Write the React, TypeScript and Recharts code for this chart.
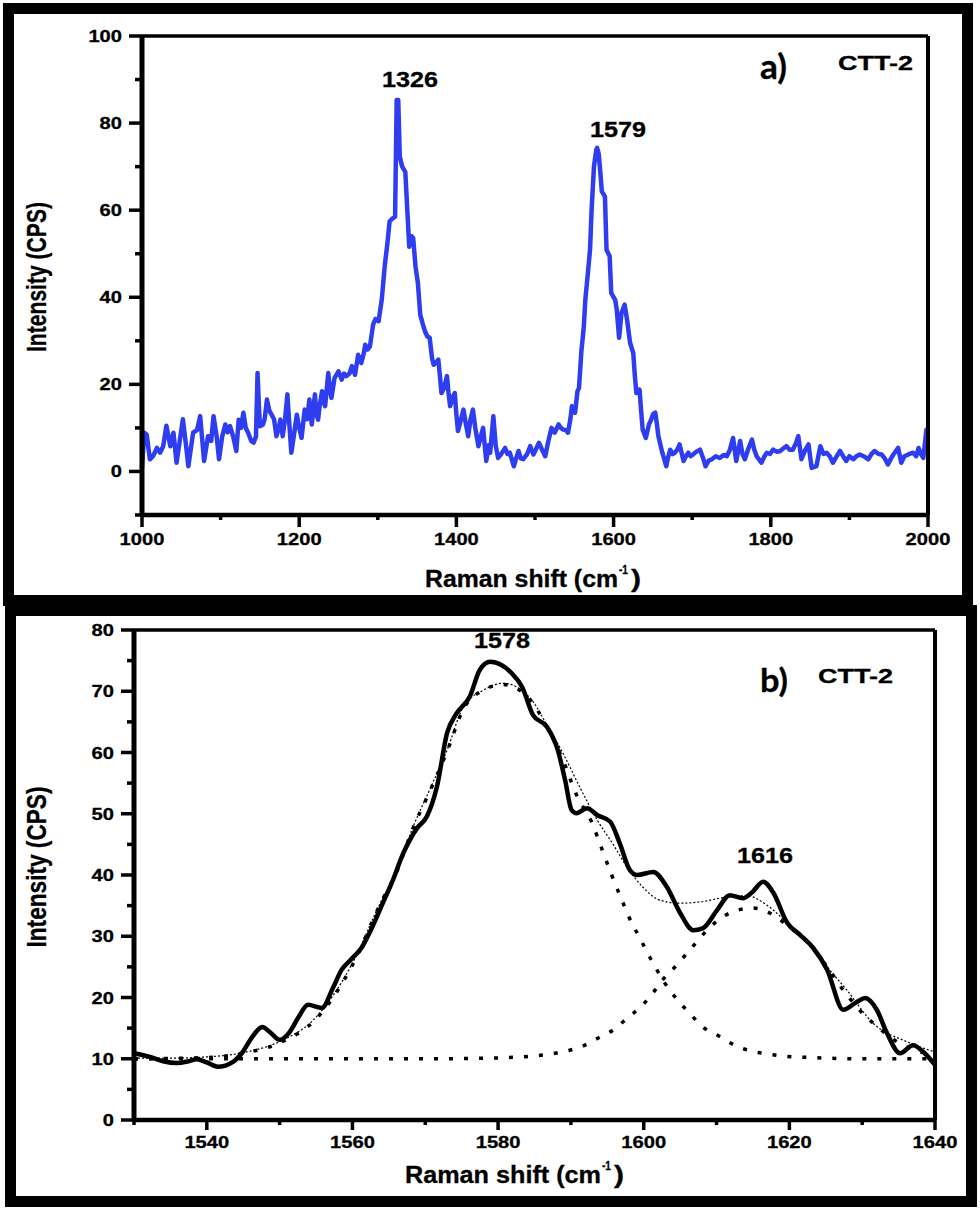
import React from 'react'
import { LineChart, Line, XAxis, YAxis, ReferenceLine } from 'recharts'

const FONT = '"Liberation Sans", Arial, Helvetica, sans-serif'
const BLUE = '#2e3df0'

// ---- panel a): full Raman spectrum, 1000-2000 cm-1 ----
const shiftA = [
  1000, 1003, 1006, 1010, 1014, 1019, 1023, 1027, 1031, 1036, 1040, 1044, 1048, 1052, 1056, 1059,
  1065, 1070, 1074, 1079, 1084, 1088, 1091, 1095, 1098, 1102, 1106, 1109, 1112, 1116, 1120, 1123,
  1126, 1129, 1132, 1135, 1139, 1142, 1145, 1147, 1149, 1150, 1154, 1156, 1159, 1162, 1165, 1168,
  1171, 1174, 1176, 1179, 1182, 1185, 1187, 1190, 1193, 1197, 1200, 1203, 1207, 1210, 1213, 1216,
  1220, 1222, 1224, 1226, 1229, 1231, 1233, 1237, 1239, 1241, 1245, 1250, 1254, 1257, 1260, 1264,
  1267, 1271, 1275, 1279, 1282, 1284, 1287, 1290, 1294, 1297, 1301, 1303, 1305, 1309, 1312, 1315,
  1318, 1322, 1324, 1326, 1328, 1331, 1335, 1340, 1343, 1345, 1348, 1351, 1354, 1357, 1360, 1363,
  1366, 1369, 1371, 1374, 1377, 1379, 1381, 1384, 1388, 1390, 1392, 1395, 1398, 1400, 1402, 1406,
  1409, 1412, 1415, 1418, 1421, 1424, 1428, 1431, 1434, 1436, 1438, 1441, 1443, 1447, 1450, 1453,
  1457, 1462, 1465, 1468, 1473, 1476, 1479, 1482, 1485, 1490, 1494, 1498, 1501, 1505, 1509, 1513,
  1517, 1521, 1525, 1530, 1533, 1536, 1539, 1542, 1545, 1547, 1551, 1554, 1556, 1559, 1562, 1564,
  1567, 1570, 1572, 1575, 1578, 1579, 1581, 1583, 1585, 1589, 1591, 1595, 1597, 1600, 1602, 1604,
  1607, 1610, 1614, 1617, 1621, 1625, 1627, 1629, 1633, 1635, 1637, 1641, 1645, 1648, 1650, 1653,
  1655, 1657, 1662, 1667, 1669, 1672, 1675, 1678, 1681, 1684, 1689, 1692, 1695, 1698, 1701, 1705,
  1710, 1714, 1717, 1721, 1725, 1730, 1735, 1740, 1744, 1748, 1752, 1756, 1761, 1764, 1767, 1771,
  1776, 1779, 1782, 1788, 1792, 1795, 1799, 1803, 1808, 1812, 1816, 1820, 1824, 1828, 1832, 1835,
  1839, 1844, 1848, 1852, 1858, 1863, 1867, 1871, 1875, 1879, 1884, 1888, 1892, 1896, 1900, 1905,
  1909, 1913, 1918, 1924, 1928, 1932, 1937, 1941, 1945, 1949, 1953, 1956, 1962, 1966, 1970, 1975,
  1981, 1985, 1988, 1991, 1994, 1998, 2000,
]
const intensityA = [
  0.8, 8.9, 8.5, 2.8, 3.5, 5.4, 4.3, 5.8, 10.5, 5.8, 8.9, 2.0, 7, 12, 6, 1.2,
  8.9, 9.5, 12.7, 2.4, 8.1, 7, 12.7, 8, 2.8, 8, 10.8, 9, 10.4, 8, 4.7, 11.9,
  10, 13.5, 10, 8.9, 7, 6.6, 8, 22.6, 14, 10.4, 10.8, 12, 16.5, 14, 13, 12,
  8.1, 10, 11.9, 8.1, 12, 17.7, 12, 4.3, 8, 13, 10, 7.7, 14.2, 12, 16.5, 10.8,
  17.7, 13, 11.9, 15, 18.4, 16, 15, 22.6, 19, 16.9, 21.5, 23, 21.1, 22.5, 21.9, 22.5,
  24.2, 22.2, 26.8, 24.9, 27, 29.1, 28, 28.7, 33.7, 35, 34.5, 37, 39.4, 47.5, 52, 57.4,
  58, 58.5, 85.3, 85.3, 72.3, 70, 68.8, 51.6, 54, 53.6, 47, 43.3, 36, 34, 32.2, 31,
  30.7, 26, 24.5, 25, 25.7, 22, 18, 19, 21.9, 18, 15, 17, 18, 13, 9.3, 12,
  14.2, 11, 8.1, 12, 14.2, 10, 5.8, 8, 10, 6, 2.4, 6, 4.3, 12.7, 6, 3.1,
  4, 5.4, 4, 4.3, 1.2, 3, 4.7, 3, 2.8, 4, 5.8, 3.9, 5, 6.6, 5, 3.5,
  7, 10, 8.9, 10.8, 10, 9.6, 9.5, 8.9, 12, 15, 13.5, 18.4, 19.2, 27.6, 33, 39.4,
  45, 50.9, 60, 70, 73.9, 74.3, 73, 69, 64.3, 63.1, 50.9, 49.4, 41, 40, 39.4, 37.2,
  30.7, 36.4, 38.3, 35, 29.5, 27.2, 22, 18, 18.8, 14, 9.6, 7.7, 10.8, 12, 13.1, 13.5,
  11, 8.1, 4.3, 1.2, 3, 5, 4, 4.3, 5, 6.2, 2.4, 3.5, 4.3, 3.5, 3.9, 4.5,
  5, 3, 1.2, 2.5, 2.8, 3.5, 3.1, 3.8, 3.5, 5, 7.7, 2.4, 7, 4, 2.8, 5,
  7.3, 5, 3.5, 2, 3.5, 4.3, 4, 5, 4.5, 4.7, 5.3, 5.8, 5, 5, 6.5, 8.1,
  2.8, 5, 6.2, 0.8, 1.2, 5.8, 4, 4.3, 3.5, 2, 3.5, 4.7, 3.5, 2.4, 3.5, 2.8,
  3.5, 3.9, 3.5, 2.8, 4, 4.7, 4, 3.9, 3, 1.6, 3, 3.9, 5.4, 2, 3.5, 3.9,
  4.3, 3.5, 5.4, 4, 3.1, 9.6, 9,
]
const ticksAX = [1000, 1100, 1200, 1300, 1400, 1500, 1600, 1700, 1800, 1900, 2000]
const ticksAY = [-10, 0, 10, 20, 30, 40, 50, 60, 70, 80, 90, 100]

// ---- panel b): G band and its fit ----
const shiftB = [
  1530, 1532.2, 1534, 1535.9, 1537.5, 1538.6, 1540, 1541.5, 1543.6, 1544.8, 1546.2, 1547.6,
  1548.8, 1550, 1551.4, 1552.6, 1553.9, 1555.8, 1557.3, 1558.5, 1559.7, 1561.3, 1562.4, 1564.2,
  1565.4, 1567, 1568.9, 1570.2, 1571.6, 1573, 1574.3, 1576.1, 1577.5, 1578.9, 1581.9, 1583.3,
  1584.8, 1586.7, 1588.2, 1589.2, 1590.1, 1590.8, 1592.2, 1593.6, 1595.4, 1596.7, 1598.1, 1599.1,
  1601.3, 1603.2, 1605, 1606.8, 1608.1, 1610.1, 1611.8, 1613.6, 1614.9, 1616.4, 1617.8, 1619.7,
  1621.5, 1623.2, 1625.2, 1627.4, 1629.3, 1630.4, 1632, 1633.4, 1635.2, 1637, 1638.4, 1640,
]
const intensityB = [
  10.9, 10.3, 9.6, 9.3, 9.6, 9.9, 9.4, 8.7, 9.5, 10.9, 13.5, 15.2,
  14.2, 13.1, 14.4, 16.8, 18.8, 18.3, 21.5, 24.5, 26.1, 28.2, 30.7, 35.5,
  38.7, 43.6, 47.7, 49.5, 54.4, 63.2, 66.4, 69.1, 73.5, 74.8, 72.9, 70.7,
  66.1, 64.2, 60.4, 55.5, 50.6, 50.1, 50.9, 49.8, 48.7, 45.2, 40.8, 40,
  40.5, 38, 33.8, 31, 31.3, 34.3, 36.7, 36.2, 37.2, 38.9, 37.1, 32.2,
  30.2, 28.2, 24.5, 18, 19.3, 19.9, 18, 14.2, 10.9, 12.2, 11.1, 9,
]
const fitShift = [
  1530, 1535, 1540, 1545, 1550, 1554.6, 1560, 1563.8, 1566.1, 1568.3, 1570.6, 1573,
  1575.2, 1578, 1580.7, 1584.4, 1586.7, 1588.9, 1591.2, 1593.6, 1595.8, 1597.7, 1599.9, 1602.2,
  1605, 1607.7, 1611.4, 1614.2, 1616.9, 1619.7, 1622.4, 1625.2, 1627.9, 1631.5, 1636.1, 1640,
]
const fitIntensity = [
  10.1, 10.1, 10.3, 11, 12.8, 16.3, 25.6, 35.4, 40.8, 47.8, 53.9, 60.4,
  67.4, 70.2, 71.3, 68.9, 64.5, 59.9, 54.4, 49, 45, 41.3, 38, 35.9,
  35.4, 35.6, 36.4, 36.6, 35.1, 32.2, 29.4, 25, 21.2, 15.8, 12.8, 11.1,
]
const peak1Shift = [
  1530, 1540, 1545, 1550, 1555, 1560, 1563.8, 1566.1, 1568.3, 1570.6, 1573, 1575.2,
  1578, 1580.7, 1584.4, 1586.7, 1588.9, 1590.8, 1592.9, 1594.3, 1595.6, 1597, 1598.5, 1599.5,
  1600.4, 1601.3, 1602.6, 1604.7, 1606.4, 1608.1, 1610.5, 1612.5, 1614.6, 1616.9, 1618.7, 1622.8,
  1630, 1640,
]
const peak1Intensity = [
  10, 10.2, 10.9, 12.6, 16.5, 25.3, 35.2, 40.6, 47.6, 53.6, 60.2, 67,
  70.2, 71.1, 68.6, 64.2, 58.8, 53, 48.5, 44.1, 40, 35.9, 31.8, 29.7,
  27.5, 25.6, 22.9, 19.5, 17.3, 15.2, 13.6, 12.2, 11.3, 10.8, 10.5, 10.2,
  10, 10,
]
const peak2Shift = [
  1530, 1540, 1550, 1560, 1570, 1578.9, 1583, 1587.4, 1589.5, 1591.5, 1593.6, 1595.8,
  1597.8, 1599.8, 1601.3, 1602.6, 1604.3, 1605.7, 1607.3, 1608.7, 1610.9, 1613, 1615, 1617.3,
  1619.7, 1622.4, 1625.2, 1627.4, 1630, 1632, 1636.1, 1640,
]
const peak2Intensity = [
  10, 10, 10, 10, 10, 10.1, 10.3, 10.8, 11.3, 12, 13.3, 14.7,
  16.7, 18.7, 20.8, 22.9, 25, 26.9, 29.1, 31, 33.2, 34.3, 34.6, 33.8,
  31.8, 29.1, 25, 21.2, 17.5, 15.3, 11.9, 10.7,
]
const ticksBX = [1530, 1540, 1550, 1560, 1570, 1580, 1590, 1600, 1610, 1620, 1630, 1640]
const ticksBY = [0, 5, 10, 15, 20, 25, 30, 35, 40, 45, 50, 55, 60, 65, 70, 75, 80]

const zip = (xs: number[], ys: number[]) => xs.map((x, i) => ({ x, y: ys[i] }))

const spectrumA = zip(shiftA, intensityA)
const spectrumB = zip(shiftB, intensityB)
const fitB = zip(fitShift, fitIntensity)
const peak1B = zip(peak1Shift, peak1Intensity)
const peak2B = zip(peak2Shift, peak2Intensity)

// labels are drawn a bit wider than the font, like the original figure
function Txt({ x, y, size, len, anchor = 'start', family = FONT, children, transform }: any) {
  return (
    <text
      x={x} y={y}
      transform={transform}
      fontFamily={family}
      fontWeight={700}
      fontSize={size}
      textAnchor={anchor}
      textLength={len}
      lengthAdjust="spacingAndGlyphs"
      fill="#000"
      stroke="#000"
      strokeWidth={0.3}
    >
      {children}
    </text>
  )
}

function xTick(isMajor: (v: number) => boolean, majorLen: number, minorLen: number, labelDy: number) {
  return ({ x, y, payload }: any) => {
    const v = payload.value
    const major = isMajor(v)
    const s = String(v)
    return (
      <g>
        <line x1={x} x2={x} y1={y} y2={y + (major ? majorLen : minorLen)} stroke="#000" strokeWidth={3.5} />
        {major && <Txt x={x} y={y + labelDy} size={17} len={s.length * 11.2} anchor="middle">{s}</Txt>}
      </g>
    )
  }
}

function yTick(isMajor: (v: number) => boolean, majorLen: number, minorLen: number, gap: number) {
  return ({ x, y, payload }: any) => {
    const v = payload.value
    const major = isMajor(v)
    const s = String(v)
    return (
      <g>
        <line x1={x - (major ? majorLen : minorLen)} x2={x} y1={y} y2={y} stroke="#000" strokeWidth={3.5} />
        {major && <Txt x={x - majorLen - gap} y={y + 6} size={17} len={s.length * 11.2} anchor="end">{s}</Txt>}
      </g>
    )
  }
}

const frame = (left: number, top: number, width: number, height: number): React.CSSProperties => ({
  position: 'absolute', left, top, width, height,
  boxSizing: 'border-box', border: '11px solid #000', background: '#fff',
})

export default function App() {
  return (
    <div style={{ position: 'absolute', left: 0, top: 0, width: 980, height: 1211, background: '#fff' }}>
      <div style={frame(3, 3, 970, 603)} />
      <div style={frame(5, 605, 972, 602)} />

      {/* panel a) */}
      <div style={{ position: 'absolute', left: 0, top: 0 }}>
        <LineChart width={980} height={600} margin={{ top: 36, right: 52, bottom: 45, left: 0 }}>
          <XAxis
            dataKey="x" type="number" domain={[1000, 2000]} ticks={ticksAX} interval={0}
            height={40} tickSize={0} tickMargin={0} tickLine={false}
            axisLine={{ stroke: '#000', strokeWidth: 4.5 }}
            tick={xTick((v) => v % 200 === 0, 12, 5, 30)}
          />
          <YAxis
            type="number" domain={[-10, 100]} ticks={ticksAY} interval={0}
            width={142} tickSize={0} tickMargin={0} tickLine={false}
            axisLine={{ stroke: '#000', strokeWidth: 5 }}
            tick={yTick((v) => v % 20 === 0, 13, 7, 7)}
          />
          <Line
            data={spectrumA} dataKey="y" type="linear" stroke={BLUE} strokeWidth={4.5}
            strokeLinejoin="round" dot={false} activeDot={false} isAnimationActive={false}
          />
          <ReferenceLine y={100} stroke="#000" strokeWidth={3.5} />
          <ReferenceLine x={2000} stroke="#000" strokeWidth={4} />
        </LineChart>
      </div>

      {/* panel b) */}
      <div style={{ position: 'absolute', left: 0, top: 600 }}>
        <LineChart width={980} height={610} margin={{ top: 30, right: 45, bottom: 50, left: 0 }}>
          <XAxis
            dataKey="x" type="number" domain={[1530, 1640]} ticks={ticksBX} interval={0}
            height={40} tickSize={0} tickMargin={0} tickLine={false}
            axisLine={{ stroke: '#000', strokeWidth: 4.5 }}
            tick={xTick((v) => (v - 1540) % 20 === 0, 10, 5, 28)}
          />
          <YAxis
            type="number" domain={[0, 80]} ticks={ticksBY} interval={0}
            width={134} tickSize={0} tickMargin={0} tickLine={false}
            axisLine={{ stroke: '#000', strokeWidth: 5 }}
            tick={yTick((v) => v % 10 === 0, 13, 7, 7)}
          />
          <Line
            data={peak2B} dataKey="y" type="monotone" stroke="#000" strokeWidth={3.5}
            strokeDasharray="4 11" dot={false} activeDot={false} isAnimationActive={false}
          />
          <Line
            data={peak1B} dataKey="y" type="monotone" stroke="#000" strokeWidth={3.5}
            strokeDasharray="4 11" dot={false} activeDot={false} isAnimationActive={false}
          />
          <Line
            data={fitB} dataKey="y" type="monotone" stroke="#000" strokeWidth={1.2}
            strokeDasharray="2 2" dot={false} activeDot={false} isAnimationActive={false}
          />
          <Line
            data={spectrumB} dataKey="y" type="monotone" stroke="#000" strokeWidth={4.5}
            strokeLinejoin="round" dot={false} activeDot={false} isAnimationActive={false}
          />
          <ReferenceLine y={80} stroke="#000" strokeWidth={3.5} />
          <ReferenceLine x={1640} stroke="#000" strokeWidth={4} />
        </LineChart>
      </div>

      {/* titles and annotations */}
      <svg width={980} height={1211} style={{ position: 'absolute', left: 0, top: 0, pointerEvents: 'none' }}>
        <Txt x={0} y={0} size={27} len={150} anchor="middle" transform="translate(46,277) rotate(-90)">Intensity (CPS)</Txt>
        <Txt x={425} y={587} size={23} len={193}>Raman shift (cm</Txt>
        <Txt x={619} y={574} size={13} len={9}>-1</Txt>
        <Txt x={631} y={587} size={23} len={10}>)</Txt>
        <Txt x={410} y={87} size={22} len={56} anchor="middle">1326</Txt>
        <Txt x={618} y={137} size={22} len={56} anchor="middle">1579</Txt>
        <Txt x={760} y={79} size={34} len={27} family='Lato, "Open Sans", sans-serif'>a)</Txt>
        <Txt x={838} y={70} size={21} len={75}>CTT-2</Txt>

        <Txt x={0} y={0} size={27} len={161} anchor="middle" transform="translate(46,867) rotate(-90)">Intensity (CPS)</Txt>
        <Txt x={405} y={1183} size={23} len={196}>Raman shift (cm</Txt>
        <Txt x={602} y={1170} size={13} len={9}>-1</Txt>
        <Txt x={614} y={1183} size={23} len={10}>)</Txt>
        <Txt x={502} y={648} size={22} len={56} anchor="middle">1578</Txt>
        <Txt x={765} y={863} size={22} len={56} anchor="middle">1616</Txt>
        <Txt x={760} y={692} size={33} len={28} family='Lato, "Open Sans", sans-serif'>b)</Txt>
        <Txt x={818} y={683} size={21} len={75}>CTT-2</Txt>
      </svg>
    </div>
  )
}
